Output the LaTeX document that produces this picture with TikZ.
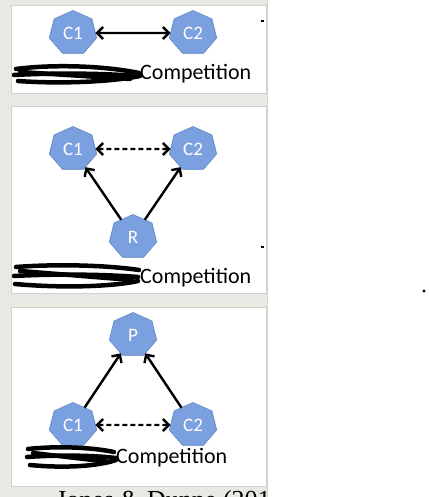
\documentclass[tikz,border=0pt]{standalone}
\usepackage{fontspec}
\setmainfont{Liberation Serif}
\newfontfamily\carl{Carlito}
\usetikzlibrary{shapes.geometric,arrows.meta}
\definecolor{bggray}{RGB}{233,232,226}
\definecolor{edgegray}{RGB}{210,210,205}
\definecolor{nodeblue}{RGB}{122,160,224}
\definecolor{nodeedge}{RGB}{98,134,198}
\newcommand{\hl}[1]{\scalebox{0.93}[1]{#1}}
\tikzset{
  hept/.style={regular polygon, regular polygon sides=7, minimum size=45pt,
    inner sep=0pt, outer sep=0pt, fill=nodeblue, draw=nodeedge, line width=0.6pt,
    xscale=1.08, transform shape, text=white, font=\carl\fontsize{19}{19}\selectfont},
  arr/.style={line width=2.4pt, {Straight Barb[length=6pt,width=12pt]}-},
  darr/.style={line width=2.4pt, {Straight Barb[length=6pt,width=12pt]}-{Straight Barb[length=6pt,width=12pt]}},
  dashedline/.style={dash pattern=on 5pt off 3pt},
  panel/.style={fill=white, draw=edgegray, line width=0.8pt},
  comp/.style={anchor=base west, inner sep=0pt, font=\carl\fontsize{22}{22}\selectfont},
  scrib/.style={line width=4.5pt, line cap=round, line join=round, black},
  tick/.style={line width=1.2pt, black}
}
\begin{document}
\begin{tikzpicture}[x=1pt,y=-1pt]
\useasboundingbox (0,0) rectangle (428,497);
\fill[white] (0,0) rectangle (428,497);
\fill[bggray] (0,0) rectangle (267,497);
\draw[edgegray, line width=1pt] (267.5,0) -- (267.5,497);
% panels
\draw[panel] (11,5) rectangle (266,93);
\draw[panel] (11,106) rectangle (266,293);
\draw[panel] (11,307) rectangle (266,486);

% panel 1
\node[hept] (a1) at (73,33) {\hl{C1}};
\node[hept] (a2) at (193,33) {\hl{C2}};
\draw[darr] (a1) -- (a2);
\node[comp] (t1) at (140,80) {Competition};
\draw[scrib] (16,69) .. controls (55,64) and (105,66) .. (139,73);
\draw[scrib] (14,75) .. controls (50,73) and (100,73) .. (136,76);
\draw[scrib] (18,81) .. controls (60,84) and (110,82) .. (140,76);
\draw[scrib] (20,72) -- (130,79);

% panel 2
\node[hept] (b1) at (73,149) {\hl{C1}};
\node[hept] (b2) at (193,149) {\hl{C2}};
\node[hept] (br) at (133,237) {\hl{R}};
\draw[darr, dashedline] (b1) -- (b2);
\draw[arr] (b1) -- (br);
\draw[arr] (b2) -- (br);
\node[comp] (t2) at (140,283) {Competition};
\draw[scrib] (16,267) .. controls (55,264) and (105,265) .. (139,270);
\draw[scrib] (14,276) .. controls (50,274) and (100,274) .. (138,277);
\draw[scrib] (15,284) .. controls (60,288) and (110,287) .. (138,281);
\draw[scrib] (20,271) -- (132,280);

% panel 3
\node[hept] (cp) at (133,335) {\hl{P}};
\node[hept] (c1) at (73,425) {\hl{C1}};
\node[hept] (c2) at (193,425) {\hl{C2}};
\draw[arr] (cp) -- (c1);
\draw[arr] (cp) -- (c2);
\draw[darr, dashedline] (c1) -- (c2);
\node[comp] (t3) at (116,463) {Competition};
\draw[scrib] (28,449) .. controls (55,446) and (90,447) .. (114,452);
\draw[scrib] (27,457) .. controls (55,455) and (90,455) .. (116,458);
\draw[scrib] (30,465) .. controls (60,468) and (95,467) .. (116,460);
\draw[scrib] (33,453) -- (110,462);

% small marks
\draw[tick] (260.5,21) -- (264,21);
\draw[tick] (260.5,247) -- (264,247);
\fill[black] (424,291) circle (1.6pt);

% clipped citation
\begin{scope}
\clip (0,487) rectangle (267,497);
\node[anchor=base west, inner sep=0pt, font=\fontsize{26}{26}\selectfont] (cite) at (56,508) {Jones \& Dunne (2013)};
\end{scope}
\end{tikzpicture}
\end{document}
